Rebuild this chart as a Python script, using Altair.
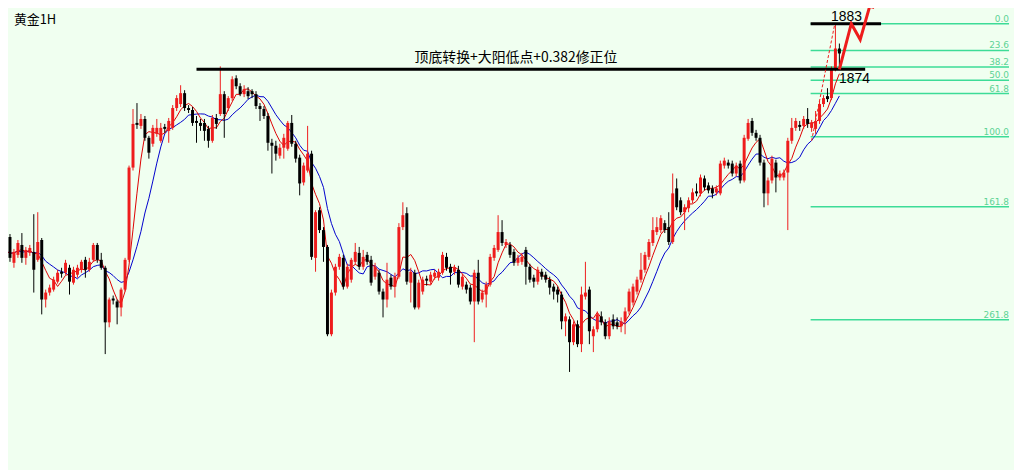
import altair as alt
import pandas as pd

# ---------------- candle data (1H gold) ----------------
open_ = [
    1837.4, 1837.4, 1840.0, 1834.8, 1836.4, 1838.4, 1835.8, 1836.8, 1837.0, 1835.4,
    1839.4, 1827.4, 1828.8, 1829.4, 1831.0, 1833.0, 1832.8, 1833.8, 1830.8, 1832.4,
    1833.4, 1835.4, 1833.4, 1835.4, 1838.4, 1835.4, 1833.8, 1822.8, 1827.6, 1827.0,
    1825.8, 1829.4, 1835.4, 1854.0, 1863.0, 1862.4, 1863.8, 1860.0, 1858.8, 1860.8,
    1859.4, 1862.2, 1861.4, 1862.0, 1866.0, 1866.8, 1869.0, 1866.0, 1865.6, 1863.4,
    1863.0, 1863.0, 1861.8, 1859.4, 1864.0, 1864.8, 1868.8, 1866.0, 1868.0, 1872.0,
    1870.4, 1868.8, 1869.4, 1869.4, 1868.8, 1866.4, 1865.8, 1864.4, 1859.0, 1858.4,
    1856.4, 1858.0, 1857.8, 1863.0, 1858.8, 1856.0, 1851.0, 1853.4, 1856.8, 1835.8,
    1845.4, 1841.4, 1838.0, 1820.4, 1828.8, 1834.0, 1835.8, 1830.0, 1831.4, 1835.0,
    1836.8, 1834.0, 1836.4, 1835.4, 1832.0, 1832.8, 1829.0, 1827.4, 1831.8, 1830.0,
    1832.0, 1842.0, 1844.8, 1830.8, 1832.8, 1825.8, 1829.0, 1831.6, 1831.0, 1832.0,
    1831.8, 1832.8, 1836.0, 1834.0, 1833.0, 1833.4, 1830.0, 1830.4, 1829.8, 1827.0,
    1832.8, 1827.4, 1828.4, 1830.4, 1835.8, 1837.4, 1841.0, 1838.4, 1838.4, 1837.0,
    1834.8, 1835.0, 1837.4, 1834.0, 1831.8, 1831.0, 1833.0, 1832.4, 1831.4, 1830.0,
    1829.4, 1828.4, 1823.0, 1823.4, 1818.8, 1822.4, 1818.4, 1828.0, 1829.4, 1820.0,
    1821.4, 1824.0, 1822.8, 1820.0, 1823.4, 1822.8, 1822.0, 1823.0, 1825.0, 1826.8,
    1829.0, 1831.4, 1833.4, 1836.0, 1838.8, 1841.0, 1841.4, 1842.8, 1842.0, 1839.0,
    1849.8, 1847.4, 1845.0, 1845.8, 1847.4, 1849.2, 1848.8, 1851.8, 1850.4, 1849.8,
    1849.0, 1848.8, 1854.4, 1855.0, 1854.8, 1852.8, 1854.8, 1851.4, 1859.8, 1863.4,
    1861.0, 1860.0, 1855.0, 1848.8, 1851.4, 1855.0, 1852.0, 1852.0, 1853.0, 1859.4,
    1862.0, 1862.6, 1862.4, 1863.8, 1862.0, 1861.8, 1863.4, 1866.8, 1868.4, 1868.0,
    1873.8, 1878.0,
]
high = [
    1838.0, 1840.6, 1840.6, 1837.6, 1839.4, 1840.8, 1838.0, 1838.4, 1844.6, 1845.0,
    1839.8, 1829.4, 1830.4, 1832.0, 1833.4, 1833.8, 1835.4, 1834.4, 1834.0, 1834.4,
    1835.4, 1836.0, 1835.8, 1838.8, 1838.8, 1836.8, 1834.2, 1827.8, 1828.2, 1827.4,
    1829.8, 1835.8, 1854.4, 1865.8, 1867.0, 1864.8, 1864.4, 1860.4, 1862.6, 1863.8,
    1863.0, 1862.8, 1864.0, 1866.6, 1868.6, 1870.6, 1869.6, 1866.6, 1866.2, 1864.4,
    1863.8, 1863.8, 1862.4, 1864.6, 1864.8, 1874.4, 1869.4, 1868.4, 1872.4, 1872.6,
    1871.0, 1870.6, 1870.2, 1869.8, 1869.4, 1867.0, 1866.4, 1865.0, 1859.8, 1859.4,
    1858.8, 1860.8, 1863.4, 1864.6, 1859.4, 1856.6, 1855.0, 1862.4, 1857.4, 1845.4,
    1846.0, 1842.0, 1838.4, 1829.4, 1834.6, 1836.6, 1836.4, 1834.6, 1835.8, 1838.8,
    1838.0, 1837.4, 1837.0, 1836.2, 1834.8, 1833.4, 1829.6, 1834.8, 1832.4, 1832.8,
    1842.8, 1847.0, 1846.0, 1833.8, 1833.4, 1831.4, 1832.0, 1832.2, 1833.0, 1833.4,
    1833.6, 1837.0, 1836.8, 1834.6, 1834.4, 1834.2, 1832.6, 1831.0, 1830.4, 1833.4,
    1835.4, 1829.4, 1831.0, 1836.6, 1838.4, 1844.4, 1843.4, 1839.6, 1839.0, 1837.6,
    1836.4, 1836.8, 1838.0, 1834.6, 1832.4, 1834.0, 1833.6, 1833.0, 1832.0, 1830.6,
    1830.0, 1829.0, 1824.6, 1824.0, 1823.0, 1823.2, 1830.0, 1835.0, 1830.0, 1822.0,
    1825.0, 1825.0, 1823.4, 1823.8, 1824.4, 1823.8, 1823.8, 1825.8, 1829.6, 1830.6,
    1832.0, 1836.8, 1837.0, 1839.6, 1844.0, 1844.0, 1844.4, 1843.4, 1845.0, 1852.8,
    1851.8, 1848.0, 1846.6, 1848.0, 1849.8, 1850.8, 1852.6, 1852.4, 1851.0, 1850.4,
    1850.4, 1855.4, 1856.0, 1855.6, 1855.4, 1855.0, 1855.4, 1860.6, 1863.8, 1864.0,
    1861.6, 1860.6, 1855.6, 1852.0, 1856.4, 1855.6, 1853.4, 1853.6, 1860.0, 1864.0,
    1864.0, 1863.4, 1864.4, 1866.0, 1863.6, 1865.4, 1867.4, 1868.6, 1870.0, 1874.4,
    1883.0, 1879.0,
]
low = [
    1833.8, 1833.8, 1835.0, 1833.8, 1835.8, 1834.8, 1834.4, 1836.2, 1828.8, 1835.0,
    1824.4, 1825.8, 1828.2, 1829.0, 1830.6, 1831.8, 1832.4, 1828.4, 1830.4, 1831.8,
    1832.8, 1831.8, 1833.0, 1835.0, 1834.8, 1833.4, 1816.4, 1821.8, 1826.4, 1822.4,
    1824.0, 1829.0, 1835.0, 1853.4, 1861.8, 1861.8, 1859.4, 1855.8, 1858.2, 1860.2,
    1859.0, 1861.0, 1859.0, 1861.6, 1865.4, 1866.2, 1865.4, 1865.0, 1862.4, 1859.0,
    1861.4, 1859.4, 1858.0, 1859.0, 1861.8, 1864.4, 1860.0, 1865.4, 1867.4, 1869.8,
    1868.4, 1868.2, 1867.8, 1868.0, 1865.8, 1863.4, 1863.8, 1857.4, 1852.8, 1855.4,
    1855.8, 1855.8, 1857.4, 1858.2, 1855.0, 1848.4, 1850.4, 1853.0, 1835.4, 1833.0,
    1840.8, 1835.0, 1820.0, 1820.0, 1828.2, 1833.4, 1829.4, 1829.6, 1830.8, 1834.4,
    1833.4, 1833.4, 1834.4, 1830.2, 1831.4, 1828.4, 1823.8, 1825.8, 1829.4, 1827.8,
    1831.6, 1841.4, 1830.4, 1826.8, 1825.4, 1825.4, 1828.4, 1830.2, 1830.4, 1831.4,
    1831.2, 1832.4, 1833.2, 1830.4, 1832.4, 1829.8, 1829.4, 1828.6, 1826.4, 1818.8,
    1826.4, 1826.8, 1825.8, 1830.0, 1835.2, 1837.0, 1838.2, 1837.8, 1835.8, 1834.2,
    1834.2, 1834.4, 1830.4, 1830.8, 1829.8, 1830.4, 1831.4, 1830.8, 1828.4, 1827.4,
    1826.8, 1821.4, 1820.0, 1812.8, 1818.2, 1817.8, 1816.8, 1827.4, 1818.4, 1816.8,
    1820.8, 1822.2, 1819.4, 1819.4, 1821.4, 1821.4, 1820.8, 1820.4, 1824.4, 1826.2,
    1828.4, 1830.8, 1832.8, 1835.4, 1838.2, 1840.4, 1840.8, 1840.8, 1838.4, 1838.6,
    1845.4, 1844.4, 1841.4, 1845.0, 1846.8, 1848.2, 1848.2, 1849.4, 1848.8, 1847.8,
    1848.4, 1848.4, 1853.8, 1853.8, 1852.2, 1852.2, 1850.8, 1851.0, 1859.4, 1860.4,
    1859.4, 1854.4, 1846.0, 1846.4, 1850.8, 1849.0, 1851.4, 1851.4, 1841.4, 1858.8,
    1861.4, 1861.4, 1861.8, 1862.0, 1861.2, 1860.8, 1862.8, 1866.2, 1867.2, 1867.6,
    1873.4, 1874.0,
]
close = [
    1834.4, 1840.0, 1835.8, 1837.0, 1838.8, 1835.8, 1837.4, 1837.8, 1833.4, 1839.0,
    1827.4, 1828.8, 1829.8, 1831.4, 1832.8, 1832.6, 1834.8, 1831.0, 1833.4, 1833.8,
    1835.0, 1833.4, 1835.0, 1838.4, 1835.4, 1833.8, 1822.8, 1827.4, 1827.2, 1825.8,
    1829.4, 1835.4, 1854.0, 1862.8, 1862.6, 1863.8, 1860.0, 1857.0, 1862.0, 1862.0,
    1862.0, 1861.8, 1863.4, 1866.0, 1868.0, 1869.0, 1866.0, 1865.6, 1863.0, 1863.0,
    1862.4, 1861.4, 1859.4, 1864.0, 1862.8, 1868.8, 1864.8, 1868.0, 1871.8, 1870.4,
    1868.8, 1869.8, 1868.4, 1868.8, 1866.4, 1865.8, 1864.4, 1859.0, 1858.4, 1856.8,
    1858.0, 1860.0, 1863.0, 1858.8, 1855.8, 1850.8, 1854.4, 1856.8, 1836.0, 1845.0,
    1841.4, 1838.0, 1820.4, 1828.8, 1834.0, 1836.0, 1830.0, 1834.0, 1835.4, 1837.0,
    1834.0, 1836.0, 1835.0, 1830.8, 1834.0, 1829.0, 1827.4, 1831.4, 1830.0, 1832.0,
    1842.0, 1844.4, 1831.0, 1833.0, 1825.8, 1830.8, 1831.4, 1831.2, 1832.4, 1832.8,
    1833.0, 1836.4, 1833.8, 1832.8, 1833.8, 1830.4, 1832.0, 1829.4, 1827.0, 1832.8,
    1827.0, 1828.8, 1830.4, 1836.0, 1837.8, 1841.0, 1838.8, 1839.0, 1836.4, 1834.8,
    1835.8, 1836.0, 1834.0, 1831.4, 1831.0, 1833.4, 1832.0, 1831.4, 1829.8, 1829.0,
    1828.4, 1823.0, 1824.0, 1818.8, 1822.4, 1818.4, 1828.4, 1828.8, 1821.0, 1821.4,
    1824.4, 1822.8, 1820.0, 1823.0, 1822.0, 1822.0, 1823.0, 1825.0, 1829.0, 1830.0,
    1831.4, 1833.4, 1836.4, 1839.0, 1841.4, 1842.0, 1843.8, 1841.4, 1839.0, 1848.8,
    1846.0, 1845.0, 1846.0, 1847.4, 1849.0, 1848.8, 1852.0, 1850.0, 1849.4, 1848.8,
    1849.8, 1854.8, 1855.4, 1854.4, 1852.8, 1854.4, 1851.4, 1860.0, 1863.0, 1861.0,
    1860.0, 1855.0, 1848.8, 1851.4, 1855.8, 1852.0, 1852.8, 1853.0, 1859.4, 1862.0,
    1863.4, 1862.2, 1863.8, 1862.8, 1863.0, 1863.4, 1866.8, 1868.0, 1867.8, 1873.8,
    1878.0, 1877.0,
]

# ---------------- Fibonacci levels ----------------
fib_levels = [0.0, 23.6, 38.2, 50.0, 61.8, 100.0, 161.8, 261.8]
fib_high = 1883.0
fib_low = 1860.2
fib_x = [203.75, 253.75]

# ---------------- annotations ----------------
key_prices = [1873.8, 1883.0]
key_x0 = [49.0, 203.75]
key_x1 = [217.5, 221.5]

arrow_i = [211.0, 214.0, 216.25, 218.6]
arrow_p = [1873.8, 1883.0, 1879.8, 1886.4]

dash_i = [204.0, 209.75]
dash_p = [1859.4, 1882.6]

RED = "#ee1c1c"
BG = "#f0fff0"
FIBC = "#3ddc97"

n = len(close)
candles = pd.DataFrame({
    "i": list(range(n)), "open": open_, "high": high, "low": low, "close": close,
})
candles["dir"] = ["up" if c >= o else "down" for o, c in zip(open_, close)]

fib = pd.DataFrame({
    "level": fib_levels,
    "price": [fib_high - lv / 100.0 * (fib_high - fib_low) for lv in fib_levels],
    "label": [f"{lv:.1f}" for lv in fib_levels],
    "x0": [fib_x[0]] * len(fib_levels),
    "x1": [fib_x[1]] * len(fib_levels),
})
keys = pd.DataFrame({"price": key_prices, "x0": key_x0, "x1": key_x1})
arrow = pd.DataFrame({"i": arrow_i, "p": arrow_p, "o": list(range(len(arrow_i)))})
dash = pd.DataFrame({"i": dash_i, "p": dash_p})

xs = alt.Scale(domain=[1.5, 255.0], nice=False, zero=False)
ys = alt.Scale(domain=[1793.4, 1885.8], nice=False, zero=False)
cscale = alt.Scale(domain=["up", "down"], range=[RED, "#000000"])


def X(f):
    return alt.X(f, scale=xs, axis=None)


def Y(f):
    return alt.Y(f, scale=ys, axis=None)


base = alt.Chart(candles)
wicks = base.mark_rule(strokeWidth=1).encode(
    x=X("i:Q"), y=Y("low:Q"), y2="high:Q",
    color=alt.Color("dir:N", scale=cscale, legend=None))
bodies = base.mark_rule(strokeWidth=3).encode(
    x=X("i:Q"), y=Y("open:Q"), y2="close:Q",
    color=alt.Color("dir:N", scale=cscale, legend=None))

ma = base.transform_window(
    ma5="mean(close)", frame=[-4, 0], sort=[alt.SortField("i")]
).transform_window(
    ma10="mean(close)", frame=[-9, 0], sort=[alt.SortField("i")])
ma5 = ma.mark_line(color="#dd0000", strokeWidth=1).encode(x=X("i:Q"), y=Y("ma5:Q"))
ma10 = ma.mark_line(color="#0000cc", strokeWidth=1).encode(x=X("i:Q"), y=Y("ma10:Q"))

fib_lines = alt.Chart(fib).mark_rule(color=FIBC, strokeWidth=1.5).encode(
    x=X("x0:Q"), x2="x1:Q", y=Y("price:Q"))
fib_text = alt.Chart(fib).mark_text(
    align="right", baseline="alphabetic", dy=-2, fontSize=9,
    font="DejaVu Sans", color="#5cd394").encode(
    x=X("x1:Q"), y=Y("price:Q"), text="label:N")

key_lines = alt.Chart(keys).mark_rule(color="#000000", strokeWidth=3).encode(
    x=X("x0:Q"), x2="x1:Q", y=Y("price:Q"))

dash_line = alt.Chart(dash).mark_line(color=RED, strokeWidth=1, strokeDash=[3, 2]).encode(
    x=X("i:Q"), y=Y("p:Q"))
arrow_line = alt.Chart(arrow).mark_line(color=RED, strokeWidth=3).encode(
    x=X("i:Q"), y=Y("p:Q"), order="o:Q")
arrow_head = alt.Chart(pd.DataFrame({"i": [218.9], "p": [1887.0]})).mark_point(
    shape="triangle-up", filled=True, size=90, angle=16, color=RED, opacity=1).encode(
    x=X("i:Q"), y=Y("p:Q"))

title_txt = alt.Chart(pd.DataFrame({"i": [3.0], "p": [1883.8], "t": ["黄金1H"]})).mark_text(
    align="left", baseline="middle", fontSize=13, font="Noto Sans CJK SC", color="#000000").encode(
    x=X("i:Q"), y=Y("p:Q"), text="t:N")
note_txt = alt.Chart(pd.DataFrame({"i": [129.5], "p": [1876.0], "t": ["顶底转换+大阳低点+0.382修正位"]})).mark_text(
    align="center", baseline="middle", fontSize=14, font="Noto Sans CJK SC", color="#000000").encode(
    x=X("i:Q"), y=Y("p:Q"), text="t:N")
num_txt = alt.Chart(pd.DataFrame({"i": [212.8, 214.8], "p": [1884.3, 1871.8], "t": ["1883", "1874"]})).mark_text(
    align="center", baseline="middle", fontSize=14, font="Liberation Sans", color="#000000").encode(
    x=X("i:Q"), y=Y("p:Q"), text="t:N")

chart = alt.layer(
    fib_lines, fib_text, ma10, ma5, wicks, bodies, key_lines,
    dash_line, arrow_line, arrow_head, title_txt, note_txt, num_txt,
).properties(
    width=1014, height=462, padding=0, background=BG,
    autosize=alt.AutoSizeParams(type="none"),
).configure_view(strokeWidth=0)

chart.save("out.html", embed_options={"renderer": "svg", "actions": False})
